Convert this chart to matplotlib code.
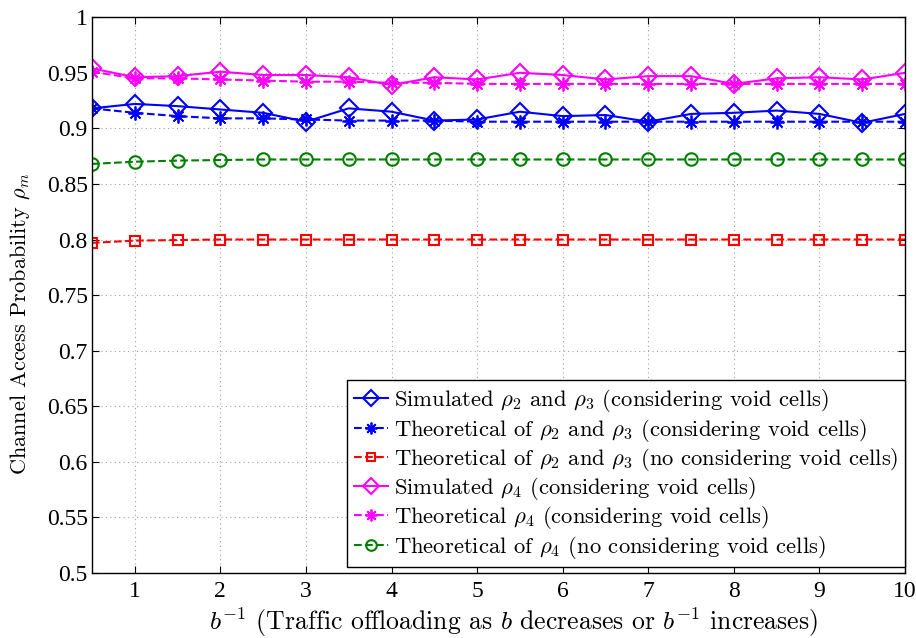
import matplotlib
matplotlib.use("Agg")
import matplotlib.pyplot as plt

plt.rcParams['font.family'] = ['cmr10', 'DejaVu Serif']
plt.rcParams['mathtext.fontset'] = 'cm'
plt.rcParams['axes.formatter.use_mathtext'] = True

b_inv = [0.5, 1, 1.5, 2, 2.5, 3, 3.5, 4, 4.5, 5, 5.5, 6, 6.5, 7, 7.5, 8, 8.5, 9, 9.5, 10]

sim_rho23 = [0.918, 0.922, 0.920, 0.917, 0.914, 0.906, 0.918, 0.915, 0.907, 0.908,
             0.915, 0.911, 0.912, 0.906, 0.913, 0.914, 0.916, 0.913, 0.905, 0.913]
theo_rho23 = [0.918, 0.914, 0.911, 0.909, 0.909, 0.908, 0.907, 0.907, 0.907, 0.906,
              0.906, 0.906, 0.906, 0.906, 0.906, 0.906, 0.906, 0.906, 0.906, 0.906]
theo_rho23_novoid = [0.797, 0.799, 0.7995, 0.800, 0.800, 0.800, 0.800, 0.800, 0.800, 0.800,
                     0.800, 0.800, 0.800, 0.800, 0.800, 0.800, 0.800, 0.800, 0.800, 0.800]
sim_rho4 = [0.954, 0.946, 0.947, 0.951, 0.948, 0.948, 0.946, 0.939, 0.946, 0.944,
            0.950, 0.948, 0.944, 0.947, 0.947, 0.940, 0.945, 0.946, 0.944, 0.950]
theo_rho4 = [0.951, 0.945, 0.945, 0.944, 0.943, 0.942, 0.942, 0.941, 0.941, 0.940,
             0.940, 0.940, 0.940, 0.940, 0.940, 0.940, 0.940, 0.940, 0.940, 0.940]
theo_rho4_novoid = [0.868, 0.870, 0.871, 0.8715, 0.872, 0.872, 0.872, 0.872, 0.872, 0.872,
                    0.872, 0.872, 0.872, 0.872, 0.872, 0.872, 0.872, 0.872, 0.872, 0.872]

labels = [
    r'Simulated $\rho_2$ and $\rho_3$ (considering void cells)',
    r'Theoretical of $\rho_2$ and $\rho_3$ (considering void cells)',
    r'Theoretical of $\rho_2$ and $\rho_3$ (no considering void cells)',
    r'Simulated $\rho_4$ (considering void cells)',
    r'Theoretical $\rho_4$ (considering void cells)',
    r'Theoretical of $\rho_4$ (no considering void cells)',
]

star = (8, 2, 0)

fig = plt.figure(figsize=(9.16, 6.38), dpi=100)
ax = fig.add_axes([0.1004, 0.102, 0.8876, 0.871])

ax.plot(b_inv, sim_rho23, '-', color='blue', marker='D', mfc='none', ms=9, mew=1.5, lw=1.5, label=labels[0])
ax.plot(b_inv, theo_rho23, '--', color='blue', marker=star, ms=10, mew=1.3, lw=1.5, label=labels[1])
ax.plot(b_inv, theo_rho23_novoid, '--', color='red', marker='s', mfc='none', ms=7, mew=1.5, lw=1.5, label=labels[2])
ax.plot(b_inv, sim_rho4, '-', color='magenta', marker='D', mfc='none', ms=9, mew=1.5, lw=1.5, label=labels[3])
ax.plot(b_inv, theo_rho4, '--', color='magenta', marker=star, ms=10, mew=1.3, lw=1.5, label=labels[4])
ax.plot(b_inv, theo_rho4_novoid, '--', color='green', marker='o', mfc='none', ms=9, mew=1.5, lw=1.5, label=labels[5])

ax.set_xlim(0.5, 10)
ax.set_ylim(0.5, 1)
ax.set_xticks(range(1, 11))
ax.set_xticklabels([str(i) for i in range(1, 11)], fontfamily='Liberation Serif')
yt = [0.5, 0.55, 0.6, 0.65, 0.7, 0.75, 0.8, 0.85, 0.9, 0.95, 1]
ax.set_yticks(yt)
ax.set_yticklabels(['0.5', '0.55', '0.6', '0.65', '0.7', '0.75', '0.8', '0.85', '0.9', '0.95', '1'],
                   fontfamily='Liberation Serif')
ax.tick_params(direction='in', top=True, right=True, labelsize=17, length=5, pad=3)
ax.tick_params(axis='x', pad=6)
ax.grid(True, linestyle=(0, (1, 3)), color='#a0a0a0', lw=0.8)
for s in ax.spines.values():
    s.set_linewidth(1.0)

ax.set_xlabel(r'$b^{-1}$ (Traffic offloading as $b$ decreases or $b^{-1}$ increases)', fontsize=18.5)
ax.xaxis.set_label_coords(0.518, -0.058)
ax.set_ylabel(r'Channel Access Probability $\rho_m$', fontsize=16)
ax.yaxis.set_label_coords(-0.074, 0.448)

leg = ax.legend(loc='lower right', bbox_to_anchor=(1.0, 0.01), fontsize=16.3, handlelength=1.5,
                handletextpad=0.25, labelspacing=0.1, borderaxespad=0.0, borderpad=0.3,
                fancybox=False, framealpha=1, markerscale=0.85)
leg.get_frame().set_edgecolor('black')
leg.get_frame().set_linewidth(1.0)

fig.savefig('out.png', dpi=100)
